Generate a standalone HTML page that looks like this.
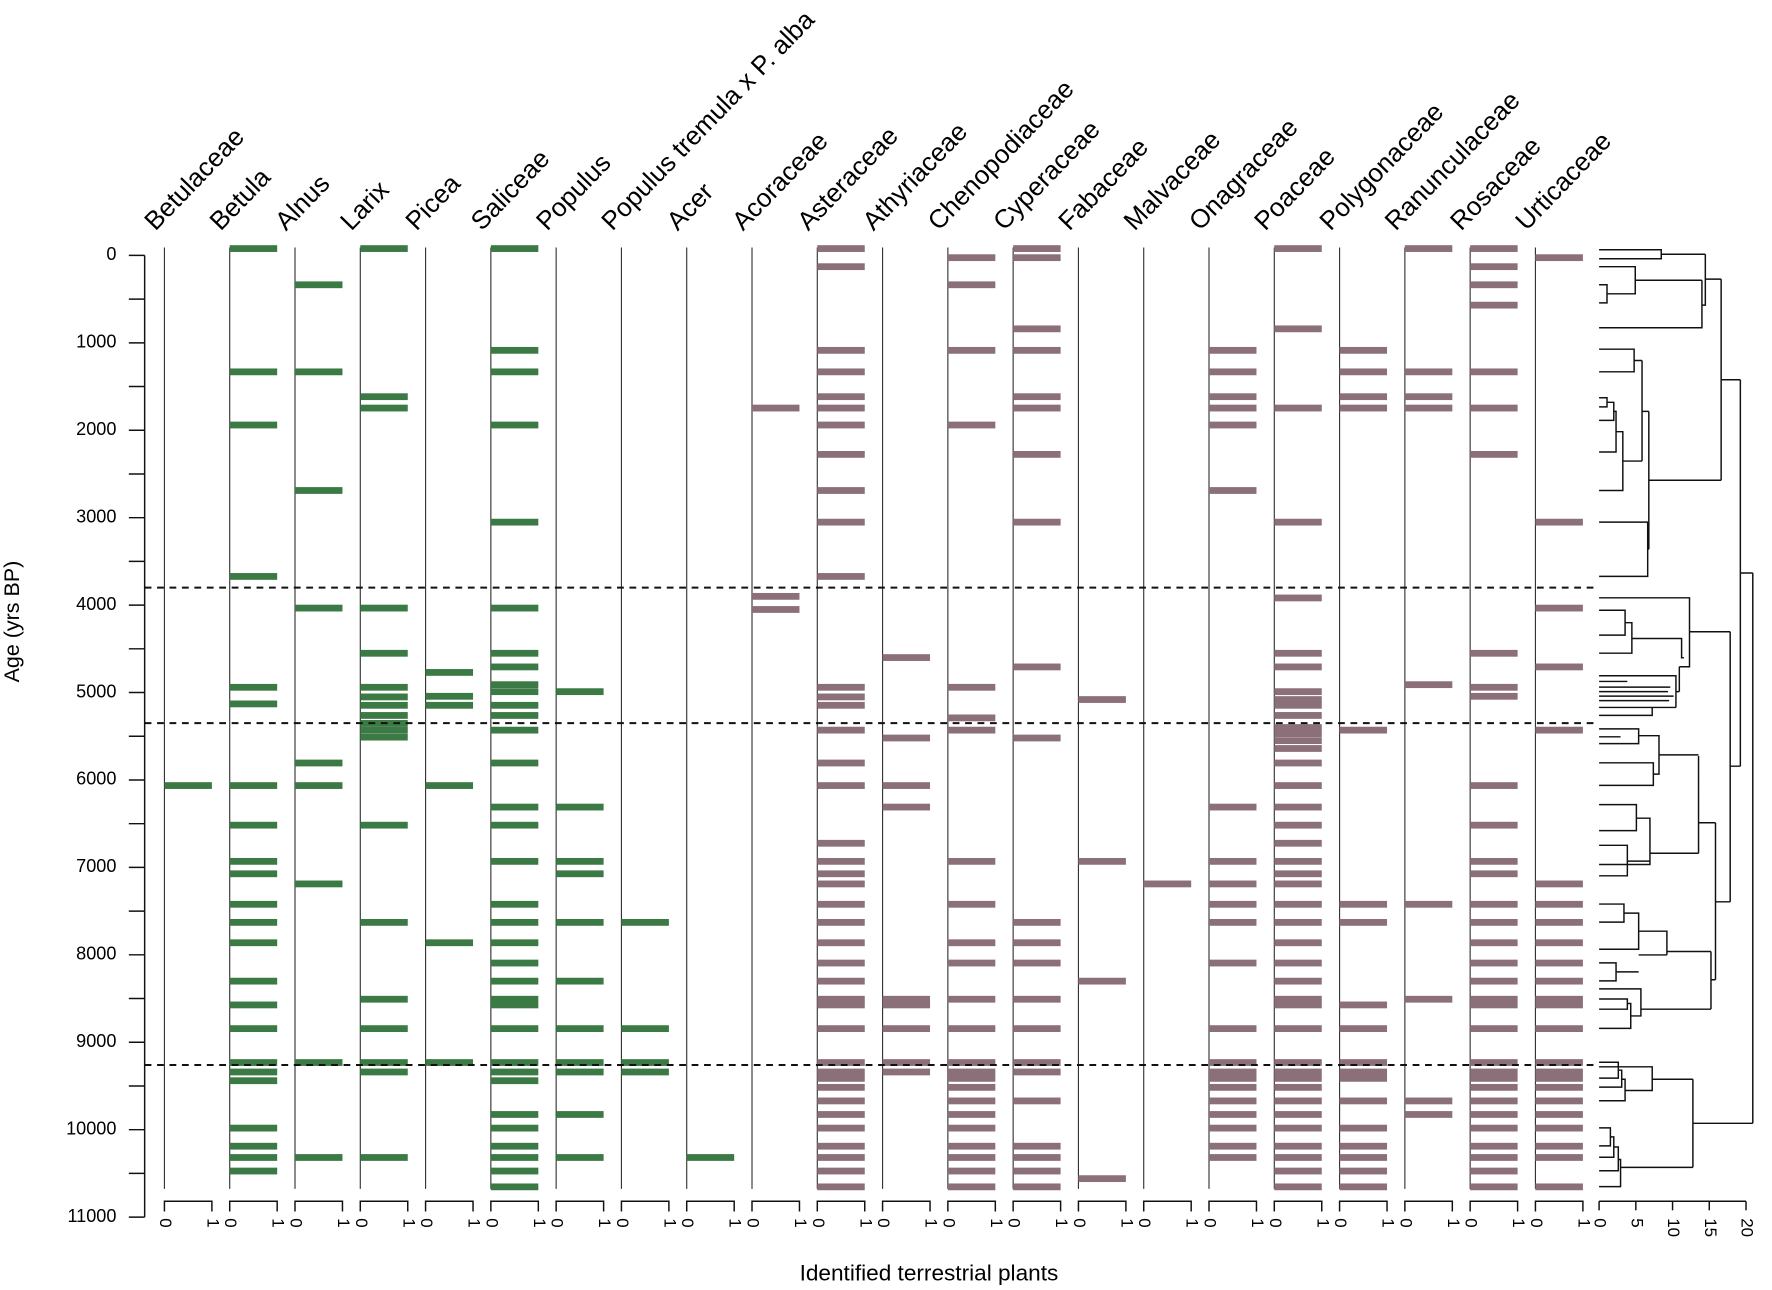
<!DOCTYPE html>
<html><head><meta charset="utf-8">
<style>
html,body{margin:0;padding:0;background:#fff;}
svg{display:block;font-family:"Liberation Sans",Arial,sans-serif;}
</style></head>
<body>
<svg id="chart" width="1772" height="1290" viewBox="0 0 1568 1141.5" preserveAspectRatio="none" xmlns="http://www.w3.org/2000/svg">
<g id="panels"></g>
<g id="yaxis"></g>
<g id="dashes"></g>
<g id="dendro" fill="none" stroke="#111" stroke-width="1.3">
<path d="M1415 221H1470V229H1415M1470 225H1509M1415 236H1447V260H1422M1415 252H1422V268H1415M1447 248H1506M1415 290H1506V248M1509 225V270H1506M1509 247H1523"/>
<path d="M1415 309H1446V329H1415M1446 319H1453M1415 352H1422V360H1415M1422 356H1428V372H1415M1428 364H1430V400H1415M1430 382H1436V434H1415M1436 408H1453M1453 319V408M1453 364H1459M1415 462H1458V510H1415M1458 486H1459M1459 364V486M1459 425H1523M1523 247V425M1523 336H1540"/>
<path d="M1415 529H1495V590H1486M1415 540H1438V562H1415M1438 551H1444V578H1415M1444 565H1488V582H1490M1486 590V612M1415 598H1483V626M1415 603H1440M1415 608H1478M1415 612H1476M1415 616H1481M1415 620H1477M1415 626H1483M1415 633H1462V626M1483 612H1486M1495 559H1531"/>
<path d="M1415 645H1450V658H1415M1415 652H1434M1415 675H1463V695H1415M1450 651H1468V685H1463M1468 668H1503M1415 712H1448V735H1415M1448 724H1460V765H1415M1415 748H1440V775H1415M1440 762H1460M1460 755H1503M1503 669V755M1503 728H1518"/>
<path d="M1415 800H1437V816H1415M1437 808H1450V840H1415M1415 852H1430V868H1415M1430 860H1450M1450 824H1475V845M1450 845H1475M1475 842H1514M1415 884H1440V893H1415M1440 888H1443V910H1415M1443 899H1452V875H1415M1452 893H1514M1514 842V893M1514 867H1518M1518 728V867M1518 798H1531M1531 559V798M1531 678H1540M1540 336V678M1540 507H1551"/>
<path d="M1415 940H1432V954H1415M1432 947H1435V962H1415M1435 955H1438V974H1415M1438 965H1462V944H1415M1462 955H1498M1415 998H1425V1014H1415M1425 1006H1428V1024H1415M1428 1015H1432V1036H1415M1432 1026H1434V1050H1415M1434 1033H1498M1498 955V1033M1498 994H1551M1551 507V994"/>
</g>
<g id="dendro-axis"></g>
<text x="12" y="550" transform="rotate(-90 12 550)" text-anchor="middle" dominant-baseline="middle" font-size="19">Age (yrs BP)</text>
<text x="822" y="1133" text-anchor="middle" font-size="20">Identified terrestrial plants</text>
</svg>
<script>
const taxa = ["Betulaceae","Betula","Alnus","Larix","Picea","Saliceae","Populus","Populus tremula x P. alba","Acer","Acoraceae","Asteraceae","Athyriaceae","Chenopodiaceae","Cyperaceae","Fabaceae","Malvaceae","Onagraceae","Poaceae","Polygonaceae","Ranunculaceae","Rosaceae","Urticaceae"];
const groups = ["tree","tree","tree","tree","tree","tree","tree","tree","tree","herb","herb","herb","herb","herb","herb","herb","herb","herb","herb","herb","herb","herb"];
const agesBetulaceae = [6064];
const agesBetula = [-78,1332,1940,3672,4940,5130,6064,6517,6931,7073,7422,7629,7862,8301,8573,8844,9232,9340,9440,9982,10189,10318,10473];
const agesAlnus = [336,1332,2689,4034,5806,6064,7189,9232,10318];
const agesLarix = [-78,1616,1746,4034,4551,4940,5050,5146,5262,5353,5430,5510,6517,7629,8508,8844,9232,9340,10318];
const agesPicea = [4770,5043,5146,6064,7862,9232];
const agesSaliceae = [-78,1086,1332,1940,3051,4034,4551,4707,4910,4990,5146,5262,5430,5806,6310,6517,6931,7422,7629,7862,8094,8301,8508,8573,8844,9232,9340,9440,9826,9982,10189,10318,10473,10654];
const agesPopulus = [4990,6310,6931,7073,7629,8301,8844,9232,9340,9826,10318];
const agesPopTremula = [7629,8844,9232,9340];
const agesAcer = [10318];
const agesAcoraceae = [1746,3900,4050];
const agesAsteraceae = [-78,129,1086,1332,1616,1746,1940,2276,2689,3051,3672,4940,5050,5146,5430,5806,6064,6724,6931,7073,7189,7422,7629,7862,8094,8301,8508,8573,8844,9232,9340,9413,9516,9671,9826,9982,10189,10318,10473,10654];
const agesAthyriaceae = [4600,5520,6064,6310,8508,8573,8844,9232,9340];
const agesChenopodiaceae = [26,336,1086,1940,4940,5290,5430,6931,7422,7862,8094,8508,8844,9232,9340,9413,9516,9671,9826,9982,10189,10318,10473,10654];
const agesCyperaceae = [-78,26,840,1086,1616,1746,2276,3051,4707,5520,7629,7862,8094,8508,8844,9232,9340,9671,10189,10318,10473,10654];
const agesFabaceae = [5080,6931,8301,10560];
const agesMalvaceae = [7189];
const agesOnagraceae = [1086,1332,1616,1746,1940,2689,6310,6931,7189,7422,7629,8094,8844,9232,9340,9413,9516,9671,9826,9982,10189,10318];
const agesPoaceae = [-78,840,1746,3051,3918,4551,4707,4990,5080,5146,5262,5400,5470,5550,5640,5806,6064,6310,6517,6724,6931,7073,7189,7422,7629,7862,8094,8301,8508,8573,8844,9232,9340,9413,9516,9671,9826,9982,10189,10318,10473,10654];
const agesPolygonaceae = [1086,1332,1616,1746,5430,7422,7629,8573,8844,9232,9340,9413,9671,9982,10189,10318,10473,10654];
const agesRanunculaceae = [-78,1332,1616,1746,4910,7422,8508,9671,9826];
const agesRosaceae = [-78,129,336,569,1332,1746,2276,4551,4940,5043,6064,6517,6931,7073,7422,7629,7862,8094,8301,8508,8573,8844,9232,9340,9413,9516,9671,9826,9982,10189,10318,10473,10654];
const agesUrticaceae = [26,3051,4034,4707,5430,7189,7422,7629,7862,8094,8301,8508,8573,8844,9232,9340,9413,9516,9671,9826,9982,10189,10318,10654];
const allAges = [agesBetulaceae,agesBetula,agesAlnus,agesLarix,agesPicea,agesSaliceae,agesPopulus,agesPopTremula,agesAcer,agesAcoraceae,agesAsteraceae,agesAthyriaceae,agesChenopodiaceae,agesCyperaceae,agesFabaceae,agesMalvaceae,agesOnagraceae,agesPoaceae,agesPolygonaceae,agesRanunculaceae,agesRosaceae,agesUrticaceae];
const zoneBoundaries = [3800,5350,9260];
const yTicks = [0,500,1000,1500,2000,2500,3000,3500,4000,4500,5000,5500,6000,6500,7000,7500,8000,8500,9000,9500,10000,10500,11000];
const dendroTicks = [0,5,10,15,20];

const NS = "http://www.w3.org/2000/svg";
const yScale = a => 226 + a * (1077 - 226) / 11000;
const xPanel = i => 145.5 + i * 57.77;
const xDendro = v => 1415 + v * 6.5;
const W = 42;
function mk(tag, attrs, parent){ const e=document.createElementNS(NS,tag); for(const k in attrs) e.setAttribute(k,attrs[k]); parent.appendChild(e); return e; }

const panels = document.getElementById('panels');
taxa.forEach((name,i)=>{
  const x0 = xPanel(i);
  const g = mk('g',{},panels);
  
  
  const ln = mk('line',{x1:x0,x2:x0,y1:219,y2:1052,stroke:'#333','stroke-width':1},g);
  
  
  const col = groups[i]==='tree' ? '#3b7a44' : '#8b6f79';
  allAges[i].forEach(a=>{
    const r = mk('rect',{x:x0, y:yScale(a)-3, width:W, height:6, fill:col},g);
    
    
  });
  const br = mk('path',{d:`M${x0} 1072V1063H${x0+W}V1072`,fill:'none',stroke:'#111','stroke-width':1.3},g);
  
  
  [[0,x0],[1,x0+W]].forEach(([v,x])=>{
    const t = mk('text',{x:x, y:1078, 'font-size':15, transform:`rotate(90 ${x} 1078)`, 'dominant-baseline':'middle'},g);
    t.textContent = v;
    
    
  });
  const tx = x0-8, ty = 205;
  const lbl = mk('text',{x:tx, y:ty, 'font-size':23, transform:`rotate(-46 ${tx} ${ty})`},g);
  lbl.textContent = name;
  
  
});

const yaxis = document.getElementById('yaxis');
mk('line',{x1:128,x2:128,y1:yScale(0),y2:yScale(11000),stroke:'#111','stroke-width':1.3},yaxis);
yTicks.forEach(v=>{
  const y=yScale(v);
  const t = mk('line',{x1:114,x2:128,y1:y,y2:y,stroke:'#111','stroke-width':1.3},yaxis);
  
  
  if(v%1000===0){
    const l = mk('text',{x:103,y:y,'text-anchor':'end','dominant-baseline':'middle','font-size':16},yaxis);
    l.textContent=v;
    
    
  }
});

const dashes = document.getElementById('dashes');
zoneBoundaries.forEach(a=>{
  const d = mk('line',{x1:128,x2:1415,y1:yScale(a),y2:yScale(a),stroke:'#111','stroke-width':1.8,'stroke-dasharray':'6 5'},dashes);
  
  
});

const da = document.getElementById('dendro-axis');
mk('line',{x1:xDendro(0),x2:xDendro(20),y1:1063,y2:1063,stroke:'#111','stroke-width':1.3},da);
dendroTicks.forEach(v=>{
  const x=xDendro(v);
  mk('line',{x1:x,x2:x,y1:1063,y2:1071,stroke:'#111','stroke-width':1.3},da);
  const t = mk('text',{x:x,y:1078,'font-size':15,transform:`rotate(90 ${x} 1078)`,'dominant-baseline':'middle'},da);
  t.textContent=v;
  
  
});
</script>
</body></html>
